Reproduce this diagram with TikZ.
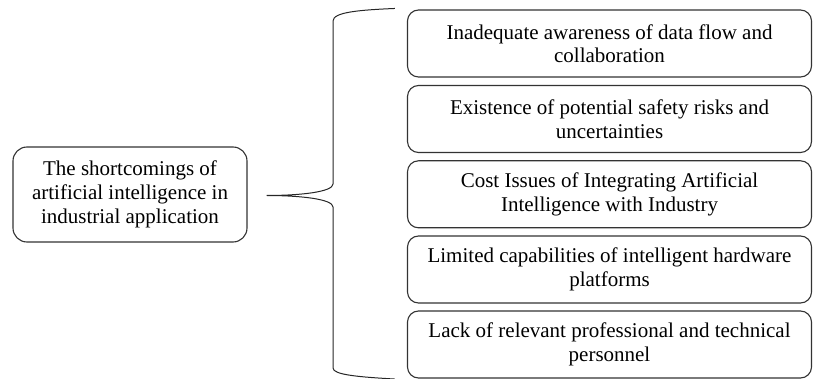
\documentclass[tikz,border=0pt]{standalone}
\usepackage{fontspec}
\setmainfont{Liberation Serif}
\begin{document}
\begin{tikzpicture}[x=1pt,y=1pt,
  box/.style={draw=black!80, line width=1.1pt, align=center, inner sep=0pt},
  lbox/.style={box, rounded corners=14pt, minimum width=234pt, minimum height=95pt,
    font=\fontsize{21}{24}\selectfont},
  rbox/.style={box, rounded corners=11pt, minimum width=404pt, minimum height=67pt,
    font=\fontsize{21}{23.5}\selectfont},
  bracestyle/.style={draw=black!85, line width=1pt}]
\useasboundingbox (0,0) rectangle (813,-379);
\node[lbox] (L) at (130,-194.5) {The shortcomings of\\artificial intelligence in\\industrial application};
\node[rbox] (r1) at (609.5,-43.5) {Inadequate awareness of data flow and\\collaboration};
\node[rbox] (r2) at (609.5,-119) {Existence of potential safety risks and\\uncertainties};
\node[rbox] (r3) at (609.5,-194.3) {Cost Issues of Integrating Artificial\\Intelligence with Industry};
\node[rbox] (r4) at (609.5,-269.5) {Limited capabilities of intelligent hardware\\platforms};
\node[rbox] (r5) at (609.5,-344.5) {Lack of relevant professional and technical\\personnel};
\coordinate (tip) at ([xshift=19pt,yshift=-1pt]L.east);
\coordinate (btop) at ([xshift=-12pt,yshift=1pt]r1.north west);
\coordinate (bbot) at ([xshift=-12pt,yshift=-0.5pt]r5.south west);
\draw[bracestyle] (btop) .. controls (360,-10) and (333,-12) .. (333,-21)
  -- (333,-184) .. controls (333,-192) and (300,-195.5) .. (tip)
  .. controls (300,-195.5) and (333,-199) .. (333,-207)
  -- (333,-368) .. controls (333,-375) and (360,-377) .. (bbot);
\end{tikzpicture}
\end{document}
